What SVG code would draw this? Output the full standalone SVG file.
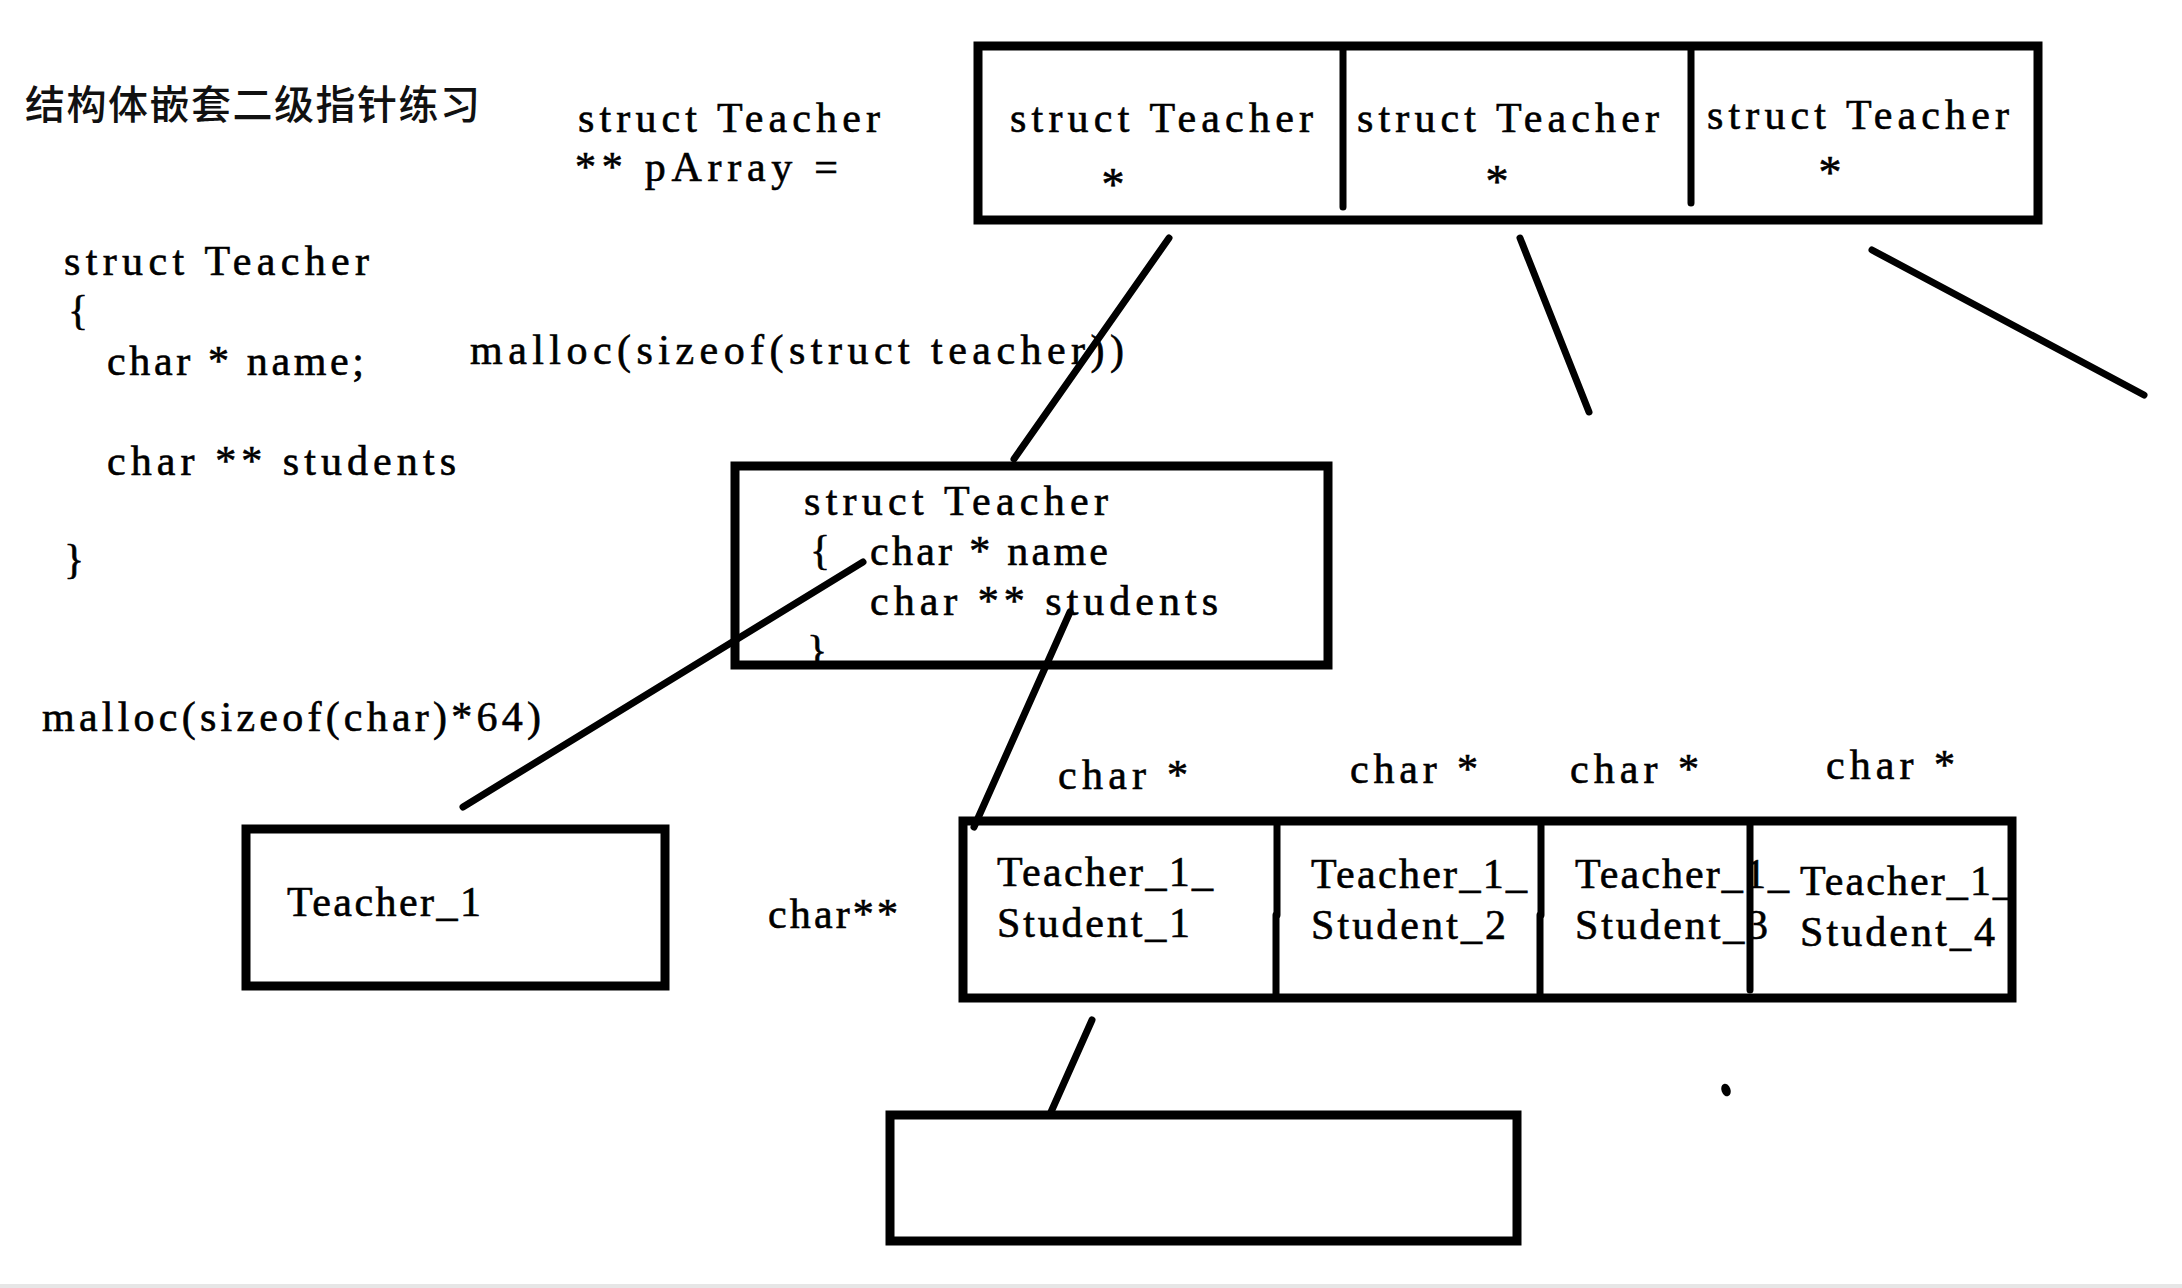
<svg xmlns="http://www.w3.org/2000/svg" width="2182" height="1288" viewBox="0 0 2182 1288">
<style>
.t{font-family:"Liberation Serif","Noto Sans CJK SC",serif;font-size:42px;fill:#000;stroke:#000;stroke-width:0.6}
.ast{font-size:46px}
.cjk{font-family:"Noto Sans CJK SC",sans-serif;font-size:40px;font-weight:500;fill:#111}
.box{fill:none;stroke:#000;stroke-width:9}
.dv{fill:none;stroke:#000;stroke-width:7;stroke-linecap:round}
.ln{fill:none;stroke:#000;stroke-width:7;stroke-linecap:round}
</style>
<defs>
<clipPath id="midclip"><rect x="735" y="466" width="593" height="199"/></clipPath>
</defs>
<rect width="2182" height="1288" fill="#fff"/>
<rect x="0" y="1284" width="2182" height="4" fill="#e6e6e6"/>

<g id="title">
<text class="cjk" x="25" y="119" textLength="455" lengthAdjust="spacing">结构体嵌套二级指针练习</text>
</g>

<g id="pArray-label">
<text class="t" x="578" y="132" textLength="302" lengthAdjust="spacing">struct Teacher</text>
<text class="t" x="575" y="181" textLength="263" lengthAdjust="spacing">** pArray  =</text>
</g>

<g id="struct-def">
<text class="t" x="64" y="275" textLength="305" lengthAdjust="spacing">struct Teacher</text>
<text class="t" x="68" y="324">{</text>
<text class="t" x="107" y="375" textLength="257" lengthAdjust="spacing">char * name;</text>
<text class="t" x="107" y="475" textLength="349" lengthAdjust="spacing">char ** students</text>
<text class="t" x="64" y="573">}</text>
</g>

<g id="malloc-teacher">
<text class="t" x="470" y="364" textLength="654" lengthAdjust="spacing">malloc(sizeof(struct teacher))</text>
</g>

<g id="malloc-char">
<text class="t" x="42" y="731" textLength="499" lengthAdjust="spacing">malloc(sizeof(char)*64)</text>
</g>

<g id="pArray-box">
<rect class="box" x="978" y="46" width="1060" height="174" stroke-width="10"/>
<line class="dv" x1="1343" y1="46" x2="1343" y2="207"/>
<line class="dv" x1="1691" y1="46" x2="1691" y2="203"/>
<text class="t" x="1010" y="132" textLength="303" lengthAdjust="spacing">struct Teacher</text>
<text class="t ast" x="1113" y="200" text-anchor="middle">*</text>
<text class="t" x="1357" y="132" textLength="302" lengthAdjust="spacing">struct Teacher</text>
<text class="t ast" x="1497" y="197" text-anchor="middle">*</text>
<text class="t" x="1707" y="129" textLength="302" lengthAdjust="spacing">struct Teacher</text>
<text class="t ast" x="1830" y="188" text-anchor="middle">*</text>
</g>

<g id="teacher-struct-box">
<text class="t" x="804" y="515" textLength="304" lengthAdjust="spacing">struct Teacher</text>
<text class="t" x="810" y="564">{</text>
<text class="t" x="870" y="565" textLength="238" lengthAdjust="spacing">char * name</text>
<text class="t" x="870" y="615" textLength="348" lengthAdjust="spacing">char ** students</text>
<text class="t" x="807" y="664" clip-path="url(#midclip)">}</text>
<rect class="box" x="735" y="466" width="593" height="199"/>
</g>

<g id="name-box">
<rect class="box" x="246" y="829" width="419" height="157" stroke-width="8"/>
<text class="t" x="287" y="916" textLength="194" lengthAdjust="spacing">Teacher_1</text>
</g>

<g id="students-label">
<text class="t" x="768" y="928" textLength="130" lengthAdjust="spacing">char**</text>
</g>

<g id="students-array">
<text class="t" x="1058" y="789" textLength="130" lengthAdjust="spacing">char *</text>
<text class="t" x="1350" y="783" textLength="128" lengthAdjust="spacing">char *</text>
<text class="t" x="1570" y="783" textLength="129" lengthAdjust="spacing">char *</text>
<text class="t" x="1826" y="779" textLength="129" lengthAdjust="spacing">char *</text>
<text class="t" x="997" y="886" textLength="216" lengthAdjust="spacing">Teacher_1_</text>
<text class="t" x="997" y="937" textLength="193" lengthAdjust="spacing">Student_1</text>
<text class="t" x="1311" y="888" textLength="216" lengthAdjust="spacing">Teacher_1_</text>
<text class="t" x="1311" y="939" textLength="195" lengthAdjust="spacing">Student_2</text>
<text class="t" x="1575" y="888" textLength="214" lengthAdjust="spacing">Teacher_1_</text>
<text class="t" x="1575" y="939" textLength="193" lengthAdjust="spacing">Student_3</text>
<text class="t" x="1800" y="895" textLength="214" lengthAdjust="spacing">Teacher_1_</text>
<text class="t" x="1800" y="946" textLength="195" lengthAdjust="spacing">Student_4</text>
<rect class="box" x="963" y="821" width="1049" height="177"/>
<line class="dv" x1="1277" y1="821" x2="1277" y2="915"/>
<line class="dv" x1="1276" y1="915" x2="1276" y2="996"/>
<line class="dv" x1="1541" y1="821" x2="1541" y2="915"/>
<line class="dv" x1="1540" y1="915" x2="1540" y2="996"/>
<line class="dv" x1="1750" y1="821" x2="1750" y2="990"/>
</g>

<g id="empty-box">
<rect class="box" x="890" y="1115" width="627" height="126"/>
</g>

<g id="connectors">
<line class="ln" x1="1169" y1="238" x2="1014" y2="459"/>
<line class="ln" x1="1520" y1="238" x2="1589" y2="412"/>
<line class="ln" x1="1872" y1="250" x2="2144" y2="395" stroke-width="10"/>
<line class="ln" x1="863" y1="562" x2="463" y2="807" stroke-width="9"/>
<line class="ln" x1="1070" y1="612" x2="974" y2="827"/>
<line class="ln" x1="1092" y1="1020" x2="1051" y2="1112"/>
</g>

<ellipse cx="1726" cy="1090" rx="4.5" ry="6.5" transform="rotate(-20 1726 1090)" fill="#000"/>
</svg>
